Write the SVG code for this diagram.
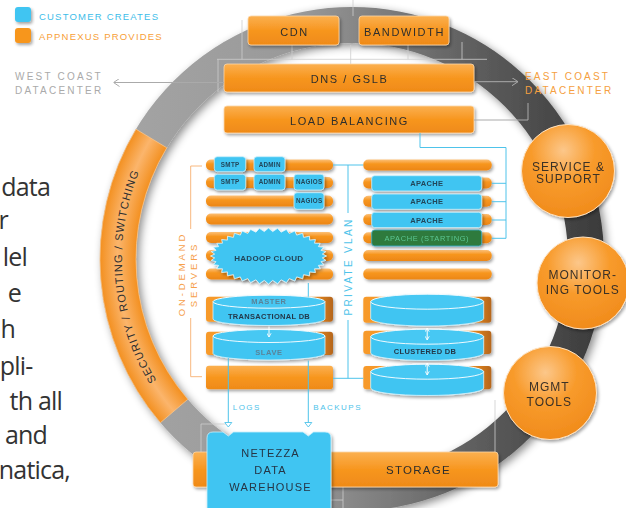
<svg xmlns="http://www.w3.org/2000/svg" width="626" height="508" viewBox="0 0 626 508">
<defs>
<style>
.lt{font-family:"Open Sans","DejaVu Sans",sans-serif;font-size:25px;letter-spacing:-0.8px;fill:#333;text-anchor:end}
.bx{font-family:"Liberation Sans",Arial,sans-serif;font-size:11px;letter-spacing:1.6px;fill:#2e2e2e;text-anchor:middle}
.sm{font-family:"Liberation Sans",Arial,sans-serif;font-size:6.3px;font-weight:bold;letter-spacing:0.3px;fill:#22465a;text-anchor:middle}
.ap{font-family:"Liberation Sans",Arial,sans-serif;font-size:7.5px;font-weight:bold;letter-spacing:0.3px;fill:#22465a;text-anchor:middle}
.db{font-family:"Liberation Sans",Arial,sans-serif;font-size:7.5px;font-weight:bold;letter-spacing:0.3px;fill:#24384a;text-anchor:middle}
.dbg{font-family:"Liberation Sans",Arial,sans-serif;font-size:7.5px;font-weight:bold;letter-spacing:0.6px;fill:#5a8399;text-anchor:middle}
.ball{font-family:"Liberation Sans",Arial,sans-serif;font-size:12px;letter-spacing:1px;fill:#3a3027;text-anchor:middle}
.lbl{font-family:"Liberation Sans",Arial,sans-serif;font-size:10px;letter-spacing:2.2px}
.leg{font-family:"Liberation Sans",Arial,sans-serif;font-size:9.5px;letter-spacing:1.2px}
.bl{font-family:"Liberation Sans",Arial,sans-serif;font-size:8px;letter-spacing:1.5px;fill:#4ec3ea}
.nz{font-family:"Liberation Sans",Arial,sans-serif;font-size:11px;letter-spacing:1.2px;fill:#253545;text-anchor:middle}
.ob{fill:url(#og);stroke:#fcd7a8;stroke-width:0.8}
.row{fill:url(#bar)}
.blue{fill:#41c5f2;stroke:#c8f0fd;stroke-width:0.8}
.dbar{fill:url(#dbg)}
.cyl{fill:#41c5f2;stroke:#d8f4fd;stroke-width:0.8}
.cylt{fill:#47c8f3;stroke:#eefaff;stroke-width:1}
.mesh{fill:none;stroke:#cdcdcd;stroke-width:0.8}
.bc{fill:none;stroke:#4ec3ea;stroke-width:1}
.wl{fill:none;stroke:#fff;stroke-width:1}
</style>
<linearGradient id="og" x1="0" y1="0" x2="0" y2="1"><stop offset="0" stop-color="#fbb050"/><stop offset="0.5" stop-color="#f7961f"/><stop offset="1" stop-color="#ef8a18"/></linearGradient>
<linearGradient id="bar" x1="0" y1="0" x2="0" y2="1"><stop offset="0" stop-color="#fcc078"/><stop offset="0.4" stop-color="#f7961f"/><stop offset="1" stop-color="#ec8616"/></linearGradient>
<linearGradient id="dbg" x1="0" y1="0" x2="1" y2="0"><stop offset="0" stop-color="#f79a2a"/><stop offset="0.82" stop-color="#f39222"/><stop offset="1" stop-color="#b5661c"/></linearGradient>
<linearGradient id="ringg" gradientUnits="userSpaceOnUse" x1="100" y1="0" x2="604" y2="0"><stop offset="0" stop-color="#a5a5a5"/><stop offset="0.4" stop-color="#999"/><stop offset="0.75" stop-color="#5d5d5d"/><stop offset="1" stop-color="#3a3a3a"/></linearGradient>
<radialGradient id="secg" gradientUnits="userSpaceOnUse" cx="352" cy="259" r="252"><stop offset="0.857" stop-color="#f39020"/><stop offset="0.93" stop-color="#fbb56c"/><stop offset="1" stop-color="#f39020"/></radialGradient>
<radialGradient id="ballg" cx="0.45" cy="0.28" r="0.75"><stop offset="0" stop-color="#fcc78a"/><stop offset="0.45" stop-color="#f89b2c"/><stop offset="1" stop-color="#f08a1a"/></radialGradient>
<filter id="sh" x="-20%" y="-30%" width="140%" height="170%"><feDropShadow dx="1.5" dy="2" stdDeviation="1.8" flood-color="#000" flood-opacity="0.35"/></filter>
<filter id="rs" x="-10%" y="-10%" width="125%" height="125%"><feDropShadow dx="3" dy="3" stdDeviation="4" flood-color="#000" flood-opacity="0.45"/></filter>
<marker id="wa" viewBox="0 0 6 6" refX="5" refY="3" markerWidth="5" markerHeight="5" orient="auto-start-reverse"><path d="M0.5,0.5 L5,3 L0.5,5.5" fill="none" stroke="#fff" stroke-width="1"/></marker>
<marker id="ga" viewBox="0 0 6 8" refX="6" refY="4" markerUnits="userSpaceOnUse" markerWidth="6" markerHeight="8" orient="auto"><path d="M0,0 L6,4 L0,8" fill="none" stroke="#aaa" stroke-width="1"/></marker>
<path id="secpath" d="M177.1,408.4 A230,230 0 0 1 154.8,140.5"/>
</defs>

<g id="side-text">
<text class="lt" x="50" y="196">data</text>
<text class="lt" x="8" y="229">r</text>
<text class="lt" x="27" y="266">lel</text>
<text class="lt" x="21" y="302">e</text>
<text class="lt" x="15" y="338">h</text>
<text class="lt" x="32.5" y="375">pli-</text>
<text class="lt" x="62" y="410">th all</text>
<text class="lt" x="47" y="444">and</text>
<text class="lt" x="70" y="479">natica,</text>
</g>

<g id="ring">
<circle cx="352" cy="259" r="234" fill="none" stroke="url(#ringg)" stroke-width="36" filter="url(#rs)"/>
</g>

<g id="security">
<path d="M160.4,422.7 A252,252 0 0 1 136,129.2 L166.8,147.8 A216,216 0 0 0 187.8,399.3 Z" fill="url(#secg)" stroke="#f8c48a" stroke-width="0.8"/>
<text font-family="Liberation Sans,Arial,sans-serif" font-size="11" letter-spacing="1" fill="#2e2e2e" text-anchor="middle"><textPath href="#secpath" startOffset="50%">SECURITY / ROUTING / SWITCHING</textPath></text>
</g>

<g id="mesh">
<path class="mesh" d="M217,59.3 H487 M242,20 V59.3 M292,45 V59.3 M408,45 V59.3 M462,42 V59.3 M353,0 V16 M350.7,45 V64 M218,59.3 V92"/>
<path class="mesh" d="M201,424 H226 M201,424 V452 M495,400 V452 M343,487 V508 M330,500 H343"/>
</g>

<g id="legend">
<rect x="15" y="7" width="16" height="15" rx="3" fill="#41c5f2" filter="url(#sh)"/>
<rect x="15" y="28" width="16" height="15" rx="3" fill="#f7961f" filter="url(#sh)"/>
<text class="leg" x="39" y="19.5" fill="#3dbde9">CUSTOMER CREATES</text>
<text class="leg" x="39" y="40" fill="#f7a037">APPNEXUS PROVIDES</text>
</g>

<g id="west-coast">
<text class="lbl" x="15" y="79.5" fill="#aaaaaa">WEST COAST</text>
<text class="lbl" x="15" y="94" fill="#aaaaaa">DATACENTER</text>
</g>
<g id="east-coast">
<text class="lbl" x="525" y="79.5" fill="#f5a040">EAST COAST</text>
<text class="lbl" x="525" y="94" fill="#f5a040">DATACENTER</text>
</g>

<g id="cdn" filter="url(#sh)"><rect class="ob" x="248" y="16" width="91" height="29" rx="3"/><text class="bx" x="294.5" y="36.3">CDN</text></g>
<g id="bandwidth" filter="url(#sh)"><rect class="ob" x="359" y="16" width="90" height="29" rx="3"/><text class="bx" x="404.5" y="36.3">BANDWIDTH</text></g>
<g id="dns" filter="url(#sh)"><rect class="ob" x="224" y="64" width="250" height="28" rx="3"/><text class="bx" x="349.5" y="83.3">DNS / GSLB</text></g>
<g id="load-balancing" filter="url(#sh)"><rect class="ob" x="224" y="106" width="250" height="27" rx="3"/><text class="bx" x="349.5" y="124.7">LOAD BALANCING</text></g>

<g id="left-servers" filter="url(#sh)">
<rect class="row" x="206" y="159.5" width="127" height="11" rx="5"/>
<rect class="row" x="206" y="177" width="127" height="11" rx="5"/>
<rect class="row" x="206" y="195.5" width="127" height="11" rx="5"/>
<rect class="row" x="206" y="213.5" width="127" height="11" rx="5"/>
<rect class="row" x="206" y="232" width="127" height="11" rx="5"/>
<rect class="row" x="206" y="250" width="127" height="11" rx="5"/>
<rect class="row" x="206" y="268.5" width="127" height="11" rx="5"/>
</g>
<g id="right-servers" filter="url(#sh)">
<rect class="row" x="363.3" y="159.5" width="128.4" height="11" rx="5"/>
<rect class="row" x="363.3" y="177.5" width="128.4" height="11" rx="5"/>
<rect class="row" x="363.3" y="195.8" width="128.4" height="11" rx="5"/>
<rect class="row" x="363.3" y="214" width="128.4" height="11" rx="5"/>
<rect class="row" x="363.3" y="232.3" width="128.4" height="11" rx="5"/>
<rect class="row" x="363.3" y="250" width="128.4" height="11" rx="5"/>
<rect class="row" x="363.3" y="268.5" width="128.4" height="11" rx="5"/>
</g>

<g id="smtp-1" filter="url(#sh)"><rect class="blue" x="214.3" y="156.7" width="31.4" height="15" rx="3"/><text class="sm" x="230.2" y="166.5">SMTP</text></g>
<g id="admin-1" filter="url(#sh)"><rect class="blue" x="254" y="156.7" width="31" height="15" rx="3"/><text class="sm" x="269.7" y="166.5">ADMIN</text></g>
<g id="smtp-2" filter="url(#sh)"><rect class="blue" x="214.3" y="174.3" width="31.4" height="15.7" rx="3"/><text class="sm" x="230.2" y="184.4">SMTP</text></g>
<g id="admin-2" filter="url(#sh)"><rect class="blue" x="254" y="174.3" width="31" height="15.7" rx="3"/><text class="sm" x="269.7" y="184.4">ADMIN</text></g>
<g id="nagios-1" filter="url(#sh)"><rect class="blue" x="294" y="174.3" width="30" height="15.7" rx="3"/><text class="sm" x="309.2" y="184.4">NAGIOS</text></g>
<g id="nagios-2" filter="url(#sh)"><rect class="blue" x="294" y="192.7" width="30" height="16.6" rx="3"/><text class="sm" x="309.2" y="203.2">NAGIOS</text></g>

<g id="apache-1" filter="url(#sh)"><rect class="blue" x="371.7" y="175.7" width="110" height="15.3" rx="3"/><text class="ap" x="426.8" y="186">APACHE</text></g>
<g id="apache-2" filter="url(#sh)"><rect class="blue" x="371.7" y="194" width="110" height="15.3" rx="3"/><text class="ap" x="426.8" y="204.3">APACHE</text></g>
<g id="apache-3" filter="url(#sh)"><rect class="blue" x="371.7" y="212.3" width="110" height="15.3" rx="3"/><text class="ap" x="426.8" y="222.6">APACHE</text></g>
<g id="apache-starting" filter="url(#sh)"><rect x="371.7" y="230" width="110" height="16" rx="3" fill="#2d7a3c" stroke="#3bb0d0" stroke-width="0.8"/><text x="426.8" y="240.7" font-family="Liberation Sans,Arial,sans-serif" font-size="7.5" letter-spacing="0.6" fill="#5cc693" text-anchor="middle">APACHE (STARTING)</text></g>

<g id="hadoop-cloud" filter="url(#sh)">
<path d="M326.5,256 L322.3,257.9 L325.8,260.4 L321,261.7 L323.7,264.7 L318.4,265.4 L320.2,268.7 L314.5,268.8 L315.4,272.5 L309.6,271.9 L309.5,275.8 L303.6,274.6 L302.6,278.7 L296.7,276.9 L294.8,280.9 L289.2,278.6 L286.4,282.6 L281.1,279.8 L277.6,283.7 L272.7,280.4 L268.5,284 L264.3,280.4 L259.4,283.7 L255.9,279.8 L250.6,282.6 L247.8,278.6 L242.2,280.9 L240.3,276.9 L234.4,278.7 L233.4,274.6 L227.5,275.8 L227.4,271.9 L221.6,272.5 L222.5,268.8 L216.8,268.7 L218.6,265.4 L213.3,264.7 L216,261.7 L211.2,260.4 L214.7,257.9 L210.5,256 L214.7,254.1 L211.2,251.6 L216,250.3 L213.3,247.3 L218.6,246.6 L216.8,243.3 L222.5,243.2 L221.6,239.5 L227.4,240.1 L227.5,236.2 L233.4,237.4 L234.4,233.3 L240.3,235.1 L242.2,231.1 L247.8,233.4 L250.6,229.4 L255.9,232.2 L259.4,228.3 L264.3,231.6 L268.5,228 L272.7,231.6 L277.6,228.3 L281.1,232.2 L286.4,229.4 L289.2,233.4 L294.8,231.1 L296.7,235.1 L302.6,233.3 L303.6,237.4 L309.5,236.2 L309.6,240.1 L315.4,239.5 L314.5,243.2 L320.2,243.3 L318.4,246.6 L323.7,247.3 L321,250.3 L325.8,251.6 L322.3,254.1 Z" fill="#41c5f2" stroke="#e4f7fe" stroke-width="0.8"/>
<text x="268.8" y="261.2" font-family="Liberation Sans,Arial,sans-serif" font-size="8" font-weight="bold" letter-spacing="0.3" fill="#23465a" text-anchor="middle">HADOOP CLOUD</text>
</g>

<g id="on-demand-label">
<path d="M202,166 H190.7 V229 M190.7,318 V376.7 H202" fill="none" stroke="#f7b070" stroke-width="0.9"/>
<g font-family="Liberation Sans,Arial,sans-serif" font-size="9.5" letter-spacing="2.9" fill="#f6a04a" text-anchor="middle">
<text transform="translate(185.2,274) rotate(-90)">ON-DEMAND</text>
<text transform="translate(196.8,274.5) rotate(-90)">SERVERS</text>
</g>
</g>
<g id="private-vlan-label">
<text transform="translate(352,266.5) rotate(-90)" font-family="Liberation Sans,Arial,sans-serif" font-size="10" letter-spacing="2.3" fill="#4ec3ea" text-anchor="middle">PRIVATE VLAN</text>
</g>

<g id="master-db" filter="url(#sh)">
<rect class="dbar" x="206" y="296.7" width="127" height="25" rx="3"/>
<path class="cyl" d="M213,301.7 V319 A56,6.5 0 0 0 325,319 V301.7 Z"/>
<ellipse class="cylt" cx="269" cy="301.7" rx="56" ry="6.5"/>
<text class="dbg" x="269" y="304.4">MASTER</text>
<text class="db" x="269" y="318.7">TRANSACTIONAL DB</text>
</g>
<g id="slave-db" filter="url(#sh)">
<rect class="dbar" x="206" y="331.7" width="127" height="23.3" rx="3"/>
<path class="cyl" d="M213,336 V353.5 A56,6.5 0 0 0 325,353.5 V336 Z"/>
<ellipse class="cylt" cx="269" cy="336" rx="56" ry="6.5"/>
<text class="dbg" x="269" y="355">SLAVE</text>
</g>
<g id="left-bar" filter="url(#sh)">
<rect x="206" y="365.7" width="127" height="23.6" rx="3" fill="url(#og)"/>
</g>

<g id="clustered-db" filter="url(#sh)">
<rect class="dbar" x="363.3" y="296.7" width="128" height="26" rx="3"/>
<rect class="dbar" x="363.3" y="330.7" width="128" height="23.3" rx="3"/>
<rect class="dbar" x="363.3" y="366" width="128" height="23.3" rx="3"/>
<path class="cyl" d="M370.7,301.7 V318.5 A56.5,7.5 0 0 0 483.7,318.5 V301.7 Z"/>
<ellipse class="cylt" cx="427.2" cy="301.7" rx="56.5" ry="7.5"/>
<path class="cyl" d="M370.7,336.7 V353 A56.5,7.5 0 0 0 483.7,353 V336.7 Z"/>
<ellipse class="cylt" cx="427.2" cy="336.7" rx="56.5" ry="7.5"/>
<path class="cyl" d="M370.7,371.7 V388 A56.5,7.5 0 0 0 483.7,388 V371.7 Z"/>
<ellipse class="cylt" cx="427.2" cy="371.7" rx="56.5" ry="7.5"/>
<text class="db" x="425" y="354.4">CLUSTERED DB</text>
</g>

<g id="storage" filter="url(#sh)"><rect class="ob" x="193" y="452" width="305" height="35" rx="3"/><text class="bx" x="418.5" y="474" style="font-size:11.5px;letter-spacing:1.3px">STORAGE</text></g>
<g id="netezza" filter="url(#sh)">
<path d="M213,432 H223 L228.3,436 L233.6,432 H303 L308.3,436 L313.6,432 H325 Q331,432 331,438 V512 H207 V438 Q207,432 213,432 Z" fill="#41c5f2" stroke="#c8f0fd" stroke-width="0.8"/>
<text class="nz" x="270.6" y="457.3">NETEZZA</text>
<text class="nz" x="270.6" y="474">DATA</text>
<text class="nz" x="270.6" y="490.7">WAREHOUSE</text>
</g>

<g id="service-support" filter="url(#sh)"><circle cx="568" cy="171" r="46.5" fill="url(#ballg)" stroke="#fde3c4" stroke-width="1"/><text class="ball" x="568.5" y="170.5">SERVICE &amp;</text><text class="ball" x="568.5" y="183.2">SUPPORT</text></g>
<g id="monitoring-tools" filter="url(#sh)"><circle cx="583" cy="283" r="46" fill="url(#ballg)" stroke="#fde3c4" stroke-width="1"/><text class="ball" x="582.7" y="279.3">MONITOR-</text><text class="ball" x="582.7" y="294.3">ING TOOLS</text></g>
<g id="mgmt-tools" filter="url(#sh)"><circle cx="550" cy="393" r="46.5" fill="url(#ballg)" stroke="#fde3c4" stroke-width="1"/><text class="ball" x="549.3" y="391">MGMT</text><text class="ball" x="549.3" y="406">TOOLS</text></g>

<g id="connectors">
<path d="M224,82.5 H113.5" fill="none" stroke="#aaa" stroke-width="1" marker-end="url(#ga)"/>
<path d="M474,81.7 H518" fill="none" stroke="#aaa" stroke-width="1" marker-end="url(#ga)"/>
<path d="M474,120 H528 V103" fill="none" stroke="#aaa" stroke-width="1"/>
<path class="bc" d="M420,133 V147.5 H506 V238.3 M491.7,183.3 H506 M491.7,201.7 H506 M491.7,220 H506 M491.7,238.3 H506"/>
<path class="bc" d="M333,165 H363.3 M348,165 V213 M348,320 V378.3 M333,378.3 H363.3"/>
<path class="bc" d="M228.3,358 V422.5 M308.3,283 V296.7 M308.3,360.5 V422.5"/>
<path d="M224.8,422.5 H231.8 L228.3,427 Z M304.8,422.5 H311.8 L308.3,427 Z" fill="#fff" stroke="#4ec3ea" stroke-width="0.9"/>
<path class="wl" d="M269,326.5 V337" marker-end="url(#wa)"/>
<path class="wl" d="M427.2,328 V340" marker-start="url(#wa)" marker-end="url(#wa)"/>
<path class="wl" d="M427.2,363 V375" marker-start="url(#wa)" marker-end="url(#wa)"/>
<text class="bl" x="232.7" y="409.7">LOGS</text>
<text class="bl" x="313.3" y="409.7">BACKUPS</text>
</g>
</svg>
